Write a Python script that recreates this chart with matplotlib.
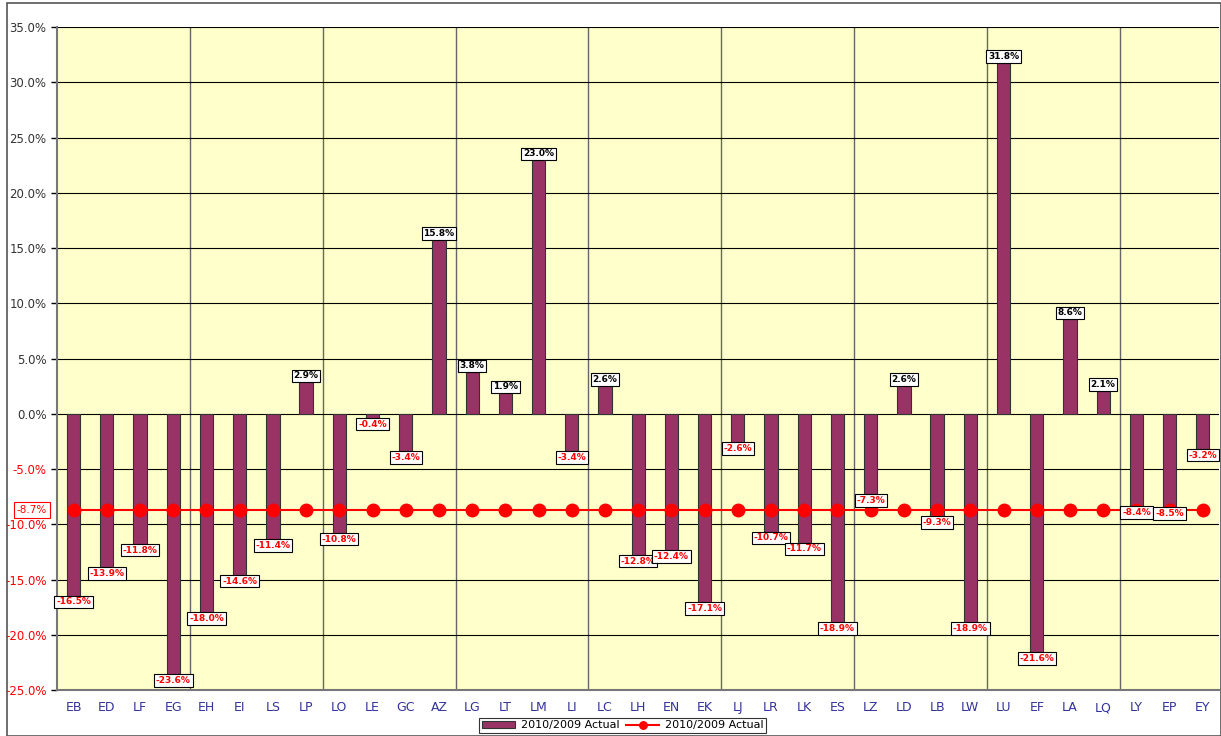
import matplotlib.pyplot as plt
from matplotlib.patches import Rectangle
from matplotlib.ticker import FuncFormatter

cats = ['EB', 'ED', 'LF', 'EG', 'EH', 'EI', 'LS', 'LP', 'LO', 'LE', 'GC', 'AZ', 'LG', 'LT', 'LM', 'LI', 'LC', 'LH',
        'EN', 'EK', 'LJ', 'LR', 'LK', 'ES', 'LZ', 'LD', 'LB', 'LW', 'LU', 'EF', 'LA', 'LQ', 'LY', 'EP', 'EY']
vals = [-16.5, -13.9, -11.8, -23.6, -18.0, -14.6, -11.4, 2.9, -10.8, -0.4, -3.4, 15.8, 3.8, 1.9, 23.0, -3.4, 2.6, -12.8,
        -12.4, -17.1, -2.6, -10.7, -11.7, -18.9, -7.3, 2.6, -9.3, -18.9, 31.8, -21.6, 8.6, 2.1, -8.4, -8.5, -3.2]
avg = -8.7
avg_line = [avg] * len(cats)

fig = plt.figure(figsize=(12.21, 7.36), dpi=100)
fig.patches.append(Rectangle((0.006, 0.0), 0.994, 0.996, transform=fig.transFigure, fill=False,
                             edgecolor='#555555', linewidth=1.2))
ax = fig.add_axes([0.0467, 0.0625, 0.952, 0.9005])
ax.set_facecolor('#FFFFCC')

x = list(range(len(cats)))
bars = ax.bar(x, vals, width=0.4, color='#993366', edgecolor='#333333', linewidth=0.8, zorder=3,
              label='2010/2009 Actual')
line, = ax.plot(x, avg_line, color='#FF0000', linewidth=1.5, marker='o', markersize=9, zorder=4,
                label='2010/2009 Actual')

for xi, v in zip(x, vals):
    if v >= 0:
        ax.annotate(f'{v:.1f}%', (xi, v), xytext=(0, 1), textcoords='offset points', ha='center', va='bottom',
                    fontsize=6.5, fontweight='bold', color='black', zorder=6,
                    bbox=dict(boxstyle='square,pad=0.2', facecolor='white', edgecolor='black', linewidth=0.8))
    else:
        ax.annotate(f'{v:.1f}%', (xi, v), xytext=(0, -1), textcoords='offset points', ha='center', va='top',
                    fontsize=6.5, fontweight='bold', color='#FF0000', zorder=6,
                    bbox=dict(boxstyle='square,pad=0.2', facecolor='white', edgecolor='black', linewidth=0.8))

ax.annotate(f'{avg:.1f}%', (-1.25, avg), ha='center', va='center', fontsize=7.5, color='#FF0000', zorder=6,
            annotation_clip=False,
            bbox=dict(boxstyle='square,pad=0.25', facecolor='white', edgecolor='#FF0000', linewidth=0.8))

ax.set_xlim(-0.5, len(cats) - 0.5)
ax.set_ylim(-25, 35)
ax.set_yticks(range(-25, 36, 5))
ax.yaxis.set_major_formatter(FuncFormatter(lambda v, p: f'{v:.1f}%'))
for lab, t in zip(ax.get_yticklabels(), range(-25, 36, 5)):
    lab.set_color('#FF0000' if t < 0 else '#333333')
ax.tick_params(axis='y', labelsize=8.5, length=4, width=1, direction='out')
ax.set_xticks(x)
ax.set_xticklabels(cats, color='#333399', fontsize=9)
ax.tick_params(axis='x', length=0, pad=8)

ax.grid(axis='y', color='black', linewidth=0.8, zorder=1)
for b in range(4, len(cats), 4):
    ax.axvline(b - 0.5, color='#666666', linewidth=1, zorder=1)

for s in ['left', 'bottom']:
    ax.spines[s].set_color('#777777')
    ax.spines[s].set_linewidth(1.5)
for s in ['top', 'right']:
    ax.spines[s].set_visible(False)

leg = fig.legend([bars, line], ['2010/2009 Actual', '2010/2009 Actual'], loc='center',
                 bbox_to_anchor=(0.51, 0.0145), ncol=2, fontsize=8, frameon=True, markerscale=0.6,
                 fancybox=False, edgecolor='black', handlelength=3, columnspacing=0.6, borderpad=0.25,
                 handletextpad=0.5, handleheight=0.6)
leg.get_frame().set_linewidth(0.8)

fig.savefig('out.png', dpi=100)
